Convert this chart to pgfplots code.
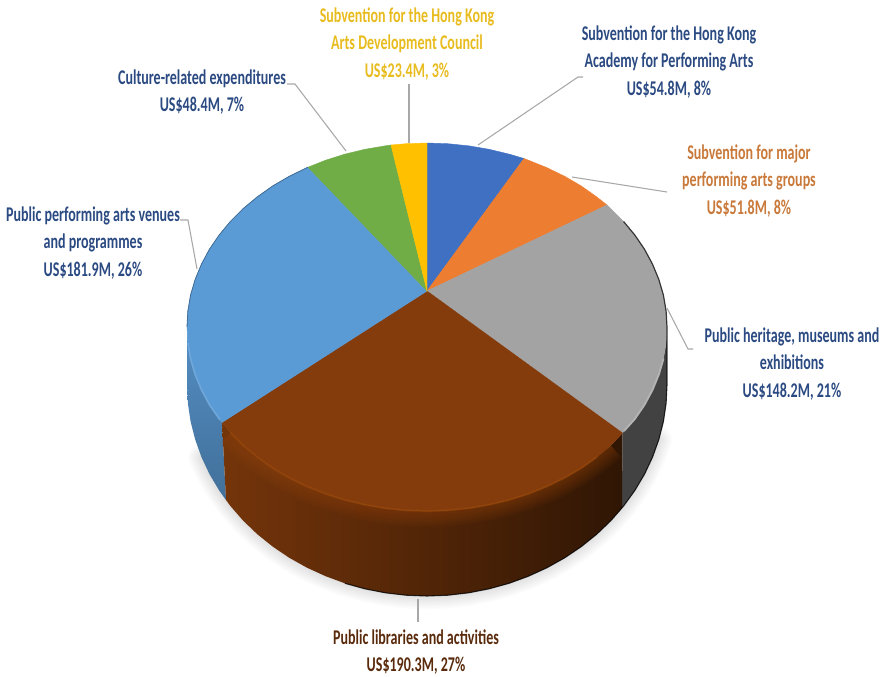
\documentclass[border=0pt]{standalone}
\usepackage{pgfplots}
\pgfplotsset{compat=1.18}
\usepackage{fontspec}
\setmainfont{Carlito}[FakeStretch=0.67]
\definecolor{navytext}{HTML}{2B4A82}
\definecolor{goldtext}{HTML}{E8BC1E}
\definecolor{ambertext}{HTML}{C9793A}
\definecolor{browntext}{HTML}{5A2A0C}
\definecolor{sliceblue}{HTML}{4070C2}
\definecolor{sliceorange}{HTML}{ED7D31}
\definecolor{slicegrey}{HTML}{A3A3A3}
\definecolor{slicebrown}{HTML}{843C0C}
\definecolor{slicesky}{HTML}{5B9BD5}
\definecolor{slicegreen}{HTML}{70AD47}
\definecolor{sliceyellow}{HTML}{FFC000}
\definecolor{leader}{HTML}{A8A8A8}
\pgfplotsset{
  wedge/.style={fill=#1,draw=#1,line width=0.3pt},
  leaderline/.style={draw=leader,line width=0.8pt,no marks},
}
\tikzset{
  lab/.style={align=center,inner sep=0pt,font=\fontsize{15.7}{20.7}\selectfont\bfseries},
}
\begin{document}
\begin{tikzpicture}
\path[use as bounding box] (0,0) rectangle (662.25pt,507pt);
\begin{axis}[
  at={(0,0)},anchor=south west,
  scale only axis,
  width=662.25pt,height=507pt,
  xmin=0,xmax=883,ymin=0,ymax=676,
  y dir=reverse,
  axis lines=none,
  no marks,
]
% soft shadow beneath the base rim
\foreach \w in {20,18,16,14,12,10,8,6,4,2}{
\edef\tmp{\noexpand\addplot[draw=black,line width=\w pt,opacity=0.012,line join=round,line cap=round] coordinates {
(658.8,439.6)(652.5,457.2)(644.5,474.2)(634.8,490.5)(623.6,506)(610.9,520.6)(596.7,534.2)(581.3,546.6)(564.7,557.8)(547,567.7)(528.4,576.2)(509.1,583.3)(489.1,588.8)(468.7,592.8)(447.9,595.2)(427,596)(406.1,595.2)(385.3,592.8)(364.9,588.8)(344.9,583.3)(325.6,576.2)(307,567.7)(289.3,557.8)(272.7,546.6)(257.3,534.2)(243.1,520.6)(230.4,506)(219.2,490.5)(209.5,474.2)(201.5,457.2)};}\tmp
}
% side wall: sky-blue slice
\addplot[top color=slicesky!92!black,bottom color=slicesky!72!black,draw=none] coordinates {
(222,422.5)(209.5,404.8)(201.5,389.9)(195.2,374.6)(190.6,359)(187.9,343)(187,327)(187,385)(187.9,403.4)(190.6,421.6)(195.2,439.6)(201.5,457.2)(209.5,474.2)(219.2,490.5)(226,500)} -- cycle;
% side wall: grey slice
\addplot[fill=black!74,draw=none] coordinates {
(622.5,433)(634.8,419)(644.5,404.8)(652.5,389.9)(658.8,374.6)(663.4,359)(666.1,343)(667,327)(667,385)(666.1,403.4)(663.4,421.6)(658.8,439.6)(652.5,457.2)(644.5,474.2)(634.8,490.5)(622,508)} -- cycle;
% side wall: brown slice
\addplot[left color=slicebrown!88!black,middle color=slicebrown!58!black,right color=slicebrown!36!black,draw=none] coordinates {
(622.5,433)(610.9,445.3)(596.7,457.1)(581.3,468)(564.7,477.7)(547,486.3)(528.4,493.8)(509.1,499.9)(489.1,504.7)(468.7,508.2)(447.9,510.3)(427,511)(406.1,510.3)(385.3,508.2)(364.9,504.7)(344.9,499.9)(325.6,493.8)(307,486.3)(289.3,477.7)(272.7,468)(257.3,457.1)(243.1,445.3)(230.4,432.5)(222,422.5)(226,500)(230.4,506)(243.1,520.6)(257.3,534.2)(272.7,546.6)(289.3,557.8)(307,567.7)(325.6,576.2)(344.9,583.3)(364.9,588.8)(385.3,592.8)(406.1,595.2)(427,596)(447.9,595.2)(468.7,592.8)(489.1,588.8)(509.1,583.3)(528.4,576.2)(547,567.7)(564.7,557.8)(581.3,546.6)(596.7,534.2)(610.9,520.6)(622,508)} -- cycle;
% dark outline of the base at the front right
\addplot[draw=black,line width=0.8pt,opacity=0.8] coordinates {
(667,385)(666.1,403.4)(663.4,421.6)(658.8,439.6)(652.5,457.2)(644.5,474.2)(634.8,490.5)(623.6,506)(610.9,520.6)(596.7,534.2)(581.3,546.6)(564.7,557.8)(547,567.7)(528.4,576.2)(509.1,583.3)(489.1,588.8)(468.7,592.8)(447.9,595.2)(427,596)(406.1,595.2)(385.3,592.8)(364.9,588.8)(344.9,583.3)};
% bevel glow along the front rim
\foreach \w in {24,21,18,15,12,9,6,3}{
\edef\tmp{\noexpand\addplot[draw=slicebrown!85!orange,line width=\w pt,opacity=0.07] coordinates {
(610.9,445.3)(596.7,457.1)(581.3,468)(564.7,477.7)(547,486.3)(528.4,493.8)(509.1,499.9)(489.1,504.7)(468.7,508.2)(447.9,510.3)(427,511)(406.1,510.3)(385.3,508.2)(364.9,504.7)(344.9,499.9)(325.6,493.8)(307,486.3)(289.3,477.7)(272.7,468)(257.3,457.1)(243.1,445.3)(230.4,432.5)};}\tmp
}
% top face
\addplot[wedge=sliceblue] coordinates {(427,291)(427,143)(447.9,143.7)(468.7,145.8)(489.1,149.3)(509.1,154.1)(524,158.5)} -- cycle;
\addplot[wedge=sliceorange] coordinates {(427,291)(524,158.5)(528.4,160.2)(547,167.7)(564.7,176.3)(581.3,186)(596.7,196.9)(607,205)} -- cycle;
\addplot[wedge=slicegrey] coordinates {(427,291)(607,205)(610.9,208.7)(623.6,221.5)(634.8,235)(644.5,249.2)(652.5,264.1)(658.8,279.4)(663.4,295)(666.1,311)(667,327)(666.1,343)(663.4,359)(658.8,374.6)(652.5,389.9)(644.5,404.8)(634.8,419)(622.5,433)} -- cycle;
\addplot[wedge=slicebrown] coordinates {(427,291)(622.5,433)(610.9,445.3)(596.7,457.1)(581.3,468)(564.7,477.7)(547,486.3)(528.4,493.8)(509.1,499.9)(489.1,504.7)(468.7,508.2)(447.9,510.3)(427,511)(406.1,510.3)(385.3,508.2)(364.9,504.7)(344.9,499.9)(325.6,493.8)(307,486.3)(289.3,477.7)(272.7,468)(257.3,457.1)(243.1,445.3)(230.4,432.5)(222,422.5)} -- cycle;
\addplot[wedge=slicesky] coordinates {(427,291)(222,422.5)(219.2,419)(209.5,404.8)(201.5,389.9)(195.2,374.6)(190.6,359)(187.9,343)(187,327)(187.9,311)(190.6,295)(195.2,279.4)(201.5,264.1)(209.5,249.2)(219.2,235)(230.4,221.5)(243.1,208.7)(257.3,196.9)(272.7,186)(289.3,176.3)(308,167.2)} -- cycle;
\addplot[wedge=slicegreen] coordinates {(427,291)(308,167.2)(325.6,160.2)(344.9,154.1)(364.9,149.3)(385.3,145.8)(391,145)} -- cycle;
\addplot[wedge=sliceyellow] coordinates {(427,291)(391,145)(406.1,143.7)(427,143)} -- cycle;
% rim highlights and dark edge of the top face
\addplot[draw=slicebrown!80!orange,line width=1.4pt,opacity=0.5] coordinates {
(596.7,457.1)(581.3,468)(564.7,477.7)(547,486.3)(528.4,493.8)(509.1,499.9)(489.1,504.7)(468.7,508.2)(447.9,510.3)(427,511)(406.1,510.3)(385.3,508.2)(364.9,504.7)(344.9,499.9)(325.6,493.8)(307,486.3)(289.3,477.7)(272.7,468)(257.3,457.1)(243.1,445.3)(230.4,432.5)};
\addplot[draw=slicegrey!82!white,line width=1.4pt] coordinates {(663.4,359)(658.8,374.6)(652.5,389.9)(644.5,404.8)(634.8,419)(624,431)};
\addplot[draw=slicesky!88!white,line width=1.2pt] coordinates {(187.9,343)(190.6,359)(195.2,374.6)(201.5,389.9)(209.5,404.8)(220,420)};
\addplot[draw=black,line width=0.9pt,opacity=0.7] coordinates {(623.6,221.5)(634.8,235)(644.5,249.2)(652.5,264.1)(658.8,279.4)(663.4,295)(666.1,311)(667,327)(667,385)};
\addplot[draw=slicesky!70!black,line width=0.6pt] coordinates {(187,327)(187.9,311)(190.6,295)(195.2,279.4)(201.5,264.1)(209.5,249.2)(219.2,235)(230.4,221.5)(243.1,208.7)(257.3,196.9)(272.7,186)(289.3,176.3)(308,167.2)};
% leader lines
\addplot[leaderline] coordinates {(287,84)(295,84)(346,151)};
\addplot[leaderline] coordinates {(409,84)(409,143)};
\addplot[leaderline] coordinates {(583,77)(578,77)(478,145)};
\addplot[leaderline] coordinates {(667,192)(572,177)};
\addplot[leaderline] coordinates {(693,349)(688,349)(667,308)};
\addplot[leaderline] coordinates {(180,220)(188,220)(197,269)};
\addplot[leaderline] coordinates {(418,599)(418,622)};
% slice labels
\node[lab,text=goldtext] at (axis cs:407,44) {Subvention for the Hong Kong\\Arts Development Council\\US\$23.4M, 3\%};
\node[lab,text=navytext] at (axis cs:202,92) {Culture-related expenditures\\US\$48.4M, 7\%};
\node[lab,text=navytext] at (axis cs:669,62) {Subvention for the Hong Kong\\Academy for Performing Arts\\US\$54.8M, 8\%};
\node[lab,text=ambertext] at (axis cs:749,181) {Subvention for major\\performing arts groups\\US\$51.8M, 8\%};
\node[lab,text=navytext] at (axis cs:792,364) {Public heritage, museums and\\exhibitions\\US\$148.2M, 21\%};
\node[lab,text=navytext] at (axis cs:93,243) {Public performing arts venues\\and programmes\\US\$181.9M, 26\%};
\node[lab,text=browntext] at (axis cs:416,652) {Public libraries and activities\\US\$190.3M, 27\%};
\end{axis}
\end{tikzpicture}
\end{document}
